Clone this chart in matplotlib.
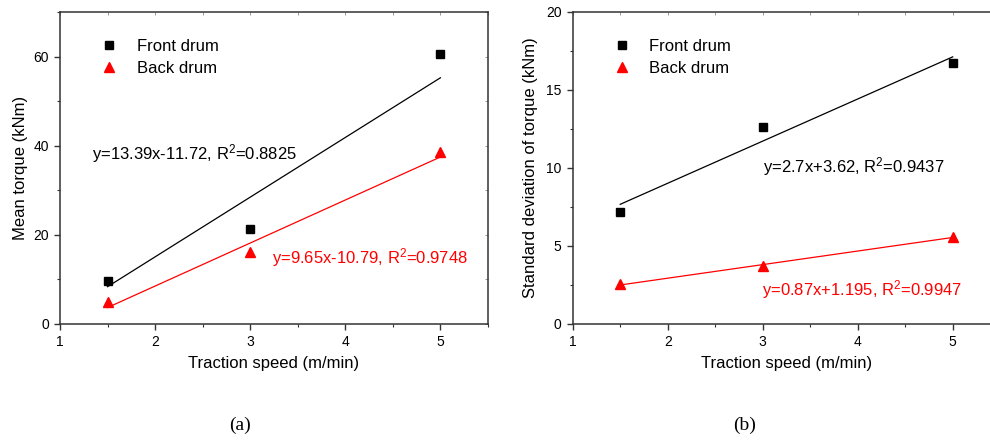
import matplotlib
matplotlib.use("Agg")
import matplotlib.pyplot as plt
from matplotlib.ticker import MultipleLocator

plt.rcParams['font.family'] = ['Liberation Sans', 'DejaVu Sans']
plt.rcParams['mathtext.fontset'] = 'custom'
plt.rcParams['mathtext.rm'] = 'Liberation Sans'
plt.rcParams['mathtext.it'] = 'Liberation Sans'

# Traction speeds and measured torques
speed = [1.5, 3.0, 5.0]
mean_front = [9.7, 21.2, 60.5]
mean_back = [5.0, 16.2, 38.5]
std_front = [7.15, 12.65, 16.75]
std_back = [2.58, 3.74, 5.6]

# Linear fits (slope, intercept)
fit_mean_front = (13.39, -11.72)
fit_mean_back = (9.65, -10.79)
fit_std_front = (2.7, 3.62)
fit_std_back = (0.87, 1.195)

SPINE = "#333333"


def style_axes(ax, ylim, ymajor, yminor):
    ax.set_xlim(1, 5.5)
    ax.set_ylim(*ylim)
    ax.xaxis.set_major_locator(MultipleLocator(1))
    ax.xaxis.set_minor_locator(MultipleLocator(0.5))
    ax.yaxis.set_major_locator(MultipleLocator(ymajor))
    ax.yaxis.set_minor_locator(MultipleLocator(yminor))
    for s in ax.spines.values():
        s.set_color(SPINE)
        s.set_linewidth(1.1)
    ax.tick_params(which='major', direction='out', length=4, width=1, color=SPINE,
                   labelsize=10, pad=4)
    ax.tick_params(which='minor', direction='out', length=2.5, width=0.8, color=SPINE)
    ax.tick_params(which='both', top=False, right=False)
    ax.set_xlabel("Traction speed (m/min)", fontsize=12, labelpad=5)

    # small inward ticks along the top and right spines
    top = ax.secondary_xaxis('top')
    top.xaxis.set_major_locator(MultipleLocator(1))
    top.xaxis.set_minor_locator(MultipleLocator(0.5))
    top.tick_params(which='both', direction='in', length=2, width=0.6,
                    color='#888888', labeltop=False)
    top.spines['top'].set_visible(False)
    right = ax.secondary_yaxis('right')
    right.yaxis.set_major_locator(MultipleLocator(ymajor))
    right.yaxis.set_minor_locator(MultipleLocator(yminor))
    right.tick_params(which='both', direction='in', length=2, width=0.6,
                      color='#888888', labelright=False)
    right.spines['right'].set_visible(False)


def fit_line(ax, fit, color):
    xs = [speed[0], speed[-1]]
    ys = [fit[0] * x + fit[1] for x in xs]
    ax.plot(xs, ys, color=color, lw=0.9, zorder=2)


def draw_panel(ax, front, back, fits, labels, label_pos, legend_x):
    fit_line(ax, fits[0], 'black')
    fit_line(ax, fits[1], 'red')
    ax.plot(speed, front, 's', color='black', ms=6, ls='none', zorder=3,
            label="Front drum")
    ax.plot(speed, back, '^', color='red', ms=7, ls='none', zorder=3,
            label="Back drum")
    ax.legend(loc='upper left', bbox_to_anchor=(legend_x, 0.935), frameon=False,
              fontsize=12, handletextpad=0.9, labelspacing=0.42, handlelength=1.5,
              borderaxespad=0)
    for text, (x, y), c in zip(labels, label_pos, ['black', 'red']):
        ax.text(x, y, text, fontsize=12, color=c, ha='left', va='center', zorder=4)


fig = plt.figure(figsize=(9.9, 4.42), dpi=100, facecolor='white')

# (a) mean torque
ax1 = fig.add_axes([0.0606, 0.267, 0.4323, 0.706])
style_axes(ax1, (0, 70), 20, 10)
ax1.set_ylabel("Mean torque (kNm)", fontsize=12, labelpad=4)
draw_panel(ax1, mean_front, mean_back, (fit_mean_front, fit_mean_back),
           ["y=13.39x-11.72, R$^2$=0.8825", "y=9.65x-10.79, R$^2$=0.9748"],
           [(1.34, 38.3), (3.23, 14.8)], 0.07)

# (b) standard deviation of torque
ax2 = fig.add_axes([0.5785, 0.267, 0.4318, 0.706])
style_axes(ax2, (0, 20), 5, 2.5)
ax2.set_ylabel("Standard deviation of torque (kNm)", fontsize=12, labelpad=6)
draw_panel(ax2, std_front, std_back, (fit_std_front, fit_std_back),
           ["y=2.7x+3.62, R$^2$=0.9437", "y=0.87x+1.195, R$^2$=0.9947"],
           [(3.0, 10.1), (2.99, 2.2)], 0.07)

fig.text(0.242, 0.038, "(a)", fontsize=14, family='Liberation Serif', ha='center', va='center')
fig.text(0.752, 0.038, "(b)", fontsize=14, family='Liberation Serif', ha='center', va='center')

fig.savefig("out.png", dpi=100, facecolor='white')
